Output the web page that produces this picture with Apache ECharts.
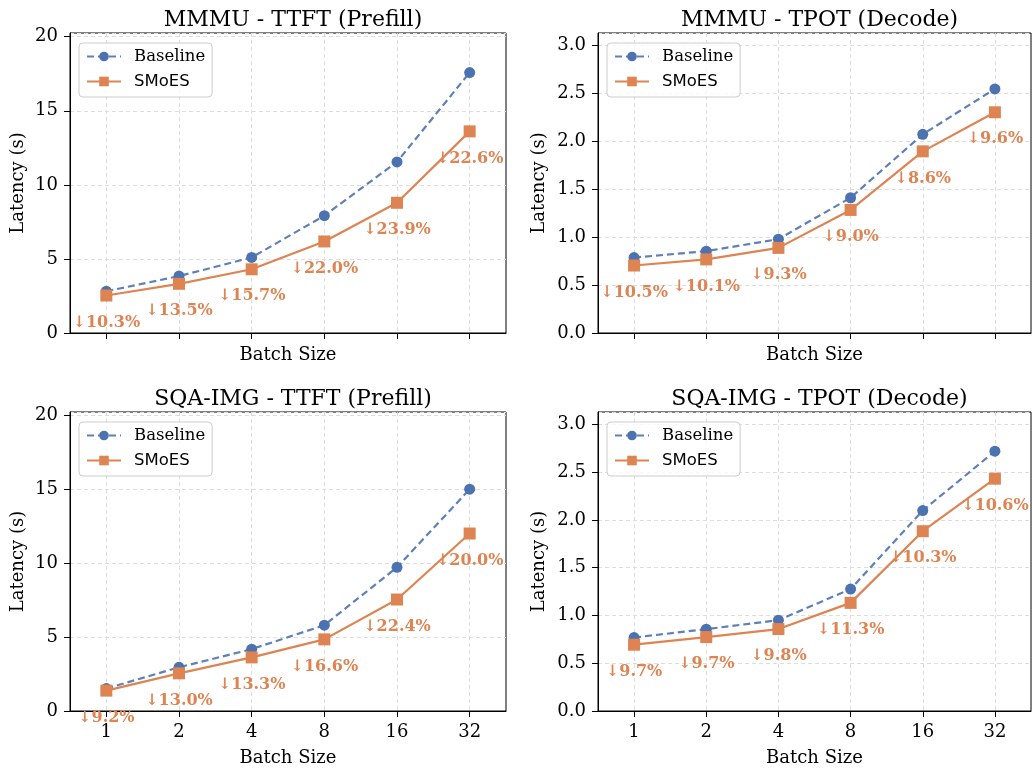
<!DOCTYPE html>
<html>
<head>
<meta charset="utf-8">
<script src="https://cdn.jsdelivr.net/npm/echarts@6/dist/echarts.min.js"></script>
<style>
html,body{margin:0;padding:0;background:#fff;}
#chart{width:1032px;height:770px;}
</style>
</head>
<body>
<div id="chart"></div>
<script>
// ---- data ----
const categories = ['1', '2', '4', '8', '16', '32'];
const seriesNames = ['Baseline', 'SMoES'];
const panelTitles = ['MMMU - TTFT (Prefill)', 'MMMU - TPOT (Decode)', 'SQA-IMG - TTFT (Prefill)', 'SQA-IMG - TPOT (Decode)'];

const mmmuTtftBaseline = [2.82, 3.84, 5.10, 7.92, 11.55, 17.58];
const mmmuTtftSmoes = [2.53, 3.32, 4.30, 6.18, 8.79, 13.61];
const mmmuTtftReduction = [10.3, 13.5, 15.7, 22.0, 23.9, 22.6];

const mmmuTpotBaseline = [0.787, 0.854, 0.979, 1.411, 2.073, 2.547];
const mmmuTpotSmoes = [0.704, 0.768, 0.888, 1.284, 1.895, 2.303];
const mmmuTpotReduction = [10.5, 10.1, 9.3, 9.0, 8.6, 9.6];

const sqaTtftBaseline = [1.52, 2.96, 4.19, 5.81, 9.73, 15.02];
const sqaTtftSmoes = [1.38, 2.55, 3.63, 4.85, 7.55, 12.02];
const sqaTtftReduction = [9.2, 13.0, 13.3, 16.6, 22.4, 20.0];

const sqaTpotBaseline = [0.769, 0.857, 0.951, 1.276, 2.098, 2.72];
const sqaTpotSmoes = [0.694, 0.774, 0.858, 1.132, 1.882, 2.432];
const sqaTpotReduction = [9.7, 9.7, 9.8, 11.3, 10.3, 10.6];

const ttftAxisMax = 20.25, ttftTickStep = 5;
const tpotAxisMax = 3.13, tpotTickStep = 0.5;

// ---- layout / style ----
const SERIF = 'DejaVu Serif', SANS = 'DejaVu Sans';
const BLUE = '#4C72B0', ORANGE = '#DD8452';
const grids = [
  {left: 70, top: 33, width: 436, height: 300},
  {left: 598, top: 33, width: 433, height: 300},
  {left: 70, top: 412, width: 436, height: 299},
  {left: 598, top: 412, width: 433, height: 299}
];
const panels = [
  {b: mmmuTtftBaseline, s: mmmuTtftSmoes, r: mmmuTtftReduction, max: ttftAxisMax, step: ttftTickStep, dec: 0, bottom: false, nameGapY: 43},
  {b: mmmuTpotBaseline, s: mmmuTpotSmoes, r: mmmuTpotReduction, max: tpotAxisMax, step: tpotTickStep, dec: 1, bottom: false, nameGapY: 50},
  {b: sqaTtftBaseline, s: sqaTtftSmoes, r: sqaTtftReduction, max: ttftAxisMax, step: ttftTickStep, dec: 0, bottom: true, nameGapY: 43},
  {b: sqaTpotBaseline, s: sqaTpotSmoes, r: sqaTpotReduction, max: tpotAxisMax, step: tpotTickStep, dec: 1, bottom: true, nameGapY: 50}
];

const gridLine = {show: true, lineStyle: {color: '#dddddd', width: 1, type: [4, 3]}};

const option = {
  backgroundColor: '#ffffff',
  animation: false,
  title: [], grid: [], xAxis: [], yAxis: [], legend: [], series: []
};

panels.forEach((p, i) => {
  const g = grids[i];
  option.grid.push(Object.assign({show: true, borderColor: '#000', borderWidth: 1, backgroundColor: 'transparent'}, g));
  option.title.push({
    text: panelTitles[i], left: g.left + g.width / 2, top: g.top - 29, textAlign: 'center',
    textStyle: {fontFamily: SERIF, fontSize: 22, fontWeight: 'normal', color: '#000'}
  });
  option.xAxis.push({
    type: 'category', gridIndex: i, data: categories, boundaryGap: true,
    name: 'Batch Size', nameLocation: 'middle', nameGap: p.bottom ? 38 : 13,
    nameTextStyle: {fontFamily: SERIF, fontSize: 18, color: '#000'},
    axisLine: {show: true, lineStyle: {color: '#000', width: 1}},
    axisTick: {show: true, alignWithLabel: true, length: 6, lineStyle: {color: '#000'}},
    axisLabel: {show: p.bottom, margin: 12, fontFamily: SERIF, fontSize: 18, color: '#000'},
    splitLine: Object.assign({alignWithLabel: true}, gridLine)
  });
  option.yAxis.push({
    type: 'value', gridIndex: i, min: 0, max: p.max, interval: p.step,
    name: 'Latency (s)', nameLocation: 'middle', nameGap: p.nameGapY,
    nameTextStyle: {fontFamily: SERIF, fontSize: 18, color: '#000'},
    axisLine: {show: true, lineStyle: {color: '#000', width: 1}},
    axisTick: {show: true, length: 6, lineStyle: {color: '#000'}},
    axisLabel: {showMaxLabel: false, margin: 12, fontFamily: SERIF, fontSize: 18, color: '#000',
      formatter: v => v.toFixed(p.dec)},
    splitLine: gridLine
  });
  option.legend.push({
    orient: 'vertical', left: g.left + 9, top: g.top + 10,
    itemWidth: 34, itemHeight: 12, itemGap: 8,
    padding: [5, 7, 7, 7],
    borderColor: '#cccccc', borderWidth: 1, borderRadius: 4,
    backgroundColor: 'rgba(255,255,255,0.8)',
    textStyle: {fontSize: 16.5, color: '#000', padding: [0, 0, 0, 8]},
    data: [
      {name: seriesNames[0], textStyle: {fontFamily: SERIF}},
      {name: seriesNames[1], textStyle: {fontFamily: SANS}}
    ]
  });
  option.series.push({
    name: seriesNames[0], type: 'line', xAxisIndex: i, yAxisIndex: i, data: p.b,
    symbol: 'circle', symbolSize: 11, z: 3,
    itemStyle: {color: BLUE},
    lineStyle: {color: BLUE, width: 2.2, type: [7, 4], opacity: 0.9}
  });
  option.series.push({
    name: seriesNames[1], type: 'line', xAxisIndex: i, yAxisIndex: i, data: p.s,
    symbol: 'rect', symbolSize: 12, z: 4,
    itemStyle: {color: ORANGE},
    lineStyle: {color: ORANGE, width: 2.2, type: 'solid'},
    label: {
      show: true, position: 'bottom', distance: 13,
      fontFamily: SERIF, fontWeight: 'bold', fontSize: 16, color: ORANGE,
      formatter: params => '\u2193' + p.r[params.dataIndex].toFixed(1) + '%'
    }
  });
});

const chart = echarts.init(document.getElementById('chart'), null, {renderer: 'canvas'});
chart.setOption(option);
</script>
</body>
</html>
